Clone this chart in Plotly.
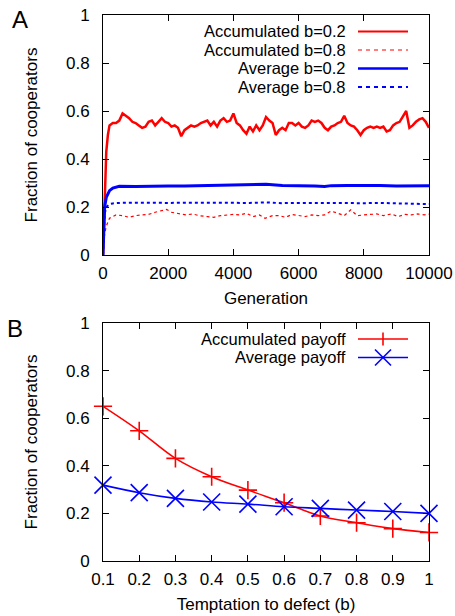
import plotly.graph_objects as go

# ---------------- Panel A data ----------------
gen_acc02 = [0, 50, 100, 150, 200] + list(range(300, 10001, 100))
acc_b02 = [0.0, 0.24, 0.43, 0.50, 0.54,
           0.55, 0.55, 0.56, 0.59, 0.58, 0.57, 0.555, 0.55, 0.54, 0.53,
           0.535, 0.555, 0.56, 0.54, 0.555, 0.57, 0.555, 0.55, 0.535, 0.54,
           0.53, 0.495, 0.52, 0.53, 0.54, 0.535, 0.54, 0.55, 0.555, 0.56,
           0.54, 0.555, 0.535, 0.56, 0.57, 0.555, 0.56, 0.59, 0.55, 0.54,
           0.52, 0.505, 0.535, 0.515, 0.54, 0.52, 0.54, 0.575, 0.56, 0.55,
           0.50, 0.52, 0.53, 0.52, 0.55, 0.55, 0.54, 0.55, 0.535, 0.53,
           0.54, 0.56, 0.555, 0.56, 0.55, 0.53, 0.52, 0.535, 0.54, 0.55,
           0.555, 0.58, 0.55, 0.54, 0.535, 0.52, 0.50, 0.52, 0.53, 0.535,
           0.53, 0.535, 0.53, 0.535, 0.515, 0.52, 0.54, 0.55, 0.555, 0.575,
           0.60, 0.53, 0.54, 0.555, 0.565, 0.57, 0.555, 0.53]

gen_acc08 = [0, 30, 100, 200, 400, 600, 800, 1000, 1200, 1400, 1600, 1800,
             1950, 2100, 2350, 2550, 2750, 2950, 3200, 3400, 3600, 3800, 4000,
             4200, 4400, 4600, 4800, 4970, 5200, 5400, 5600, 5800, 6000, 6200,
             6400, 6600, 6800, 7000, 7200, 7400, 7600, 7800, 8000, 8200, 8400,
             8600, 8850, 9050, 9250, 9450, 9650, 9850, 10000]
acc_b08 = [0.0, 0.07, 0.12, 0.153, 0.167, 0.164, 0.157, 0.164, 0.167, 0.169,
           0.178, 0.185, 0.19, 0.178, 0.171, 0.167, 0.171, 0.164, 0.16, 0.157,
           0.164, 0.167, 0.169, 0.167, 0.174, 0.16, 0.167, 0.153, 0.164, 0.164,
           0.157, 0.169, 0.164, 0.16, 0.167, 0.164, 0.167, 0.183, 0.174, 0.164,
           0.188, 0.164, 0.167, 0.169, 0.171, 0.164, 0.171, 0.16, 0.169, 0.167,
           0.171, 0.167, 0.17]

gen_avg02 = [0, 25, 50, 100, 150, 200, 300, 400, 500, 1000, 1500, 2000, 2500,
             3000, 3500, 4000, 4500, 5000, 5500, 6000, 6500, 6800, 7000, 7500,
             8000, 8500, 9000, 9500, 10000]
avg_b02 = [0.0, 0.15, 0.20, 0.24, 0.258, 0.268, 0.279, 0.284, 0.286, 0.285,
           0.288, 0.288, 0.287, 0.289, 0.290, 0.290, 0.292, 0.295, 0.290,
           0.290, 0.288, 0.285, 0.289, 0.290, 0.291, 0.290, 0.288, 0.290, 0.289]

gen_avg08 = [0, 25, 50, 100, 200, 300, 500, 1000, 1500, 2000, 2500, 3000,
             3500, 4000, 4500, 5000, 5500, 6000, 6500, 7000, 7500, 8000, 8500,
             9000, 9500, 10000]
avg_b08 = [0.0, 0.12, 0.17, 0.20, 0.212, 0.215, 0.217, 0.218, 0.216, 0.217,
           0.218, 0.217, 0.216, 0.218, 0.217, 0.219, 0.216, 0.217, 0.216,
           0.217, 0.216, 0.216, 0.217, 0.216, 0.216, 0.212]

# ---------------- Panel B data ----------------
temptation = [0.1, 0.2, 0.3, 0.4, 0.5, 0.6, 0.7, 0.8, 0.9, 1.0]
acc_payoff = [0.650, 0.547, 0.431, 0.354, 0.298, 0.245, 0.189, 0.161, 0.136, 0.120]
avg_payoff = [0.319, 0.287, 0.263, 0.248, 0.239, 0.228, 0.221, 0.214, 0.208, 0.200]

xticks_A = [0, 2000, 4000, 6000, 8000, 10000]
xticklabels_A = ["0", "2000", "4000", "6000", "8000", "10000"]
xticks_B = [0.1, 0.2, 0.3, 0.4, 0.5, 0.6, 0.7, 0.8, 0.9, 1.0]
xticklabels_B = ["0.1", "0.2", "0.3", "0.4", "0.5", "0.6", "0.7", "0.8", "0.9", "1"]
yticks = [0, 0.2, 0.4, 0.6, 0.8, 1.0]
yticklabels = ["0", "0.2", "0.4", "0.6", "0.8", "1"]

legend_A = ["Accumulated b=0.2", "Accumulated b=0.8", "Average b=0.2", "Average b=0.8"]
legend_B = ["Accumulated payoff", "Average payoff"]

RED = "#ff0000"
BLUE = "#0000ff"
FONT = "Liberation Sans, Arial, sans-serif"

# body margin is removed on load (post_script), so the figure fills the window
W, H = 455, 616


def fx(p):
    """reference-image pixel x -> paper fraction"""
    return p / W


def fy(p):
    """reference-image pixel y -> paper fraction"""
    return 1 - p / H


fig = go.Figure()

styles_A = [dict(color=RED, width=2.5),
            dict(color=RED, width=1.2, dash="3px,3px"),
            dict(color=BLUE, width=3),
            dict(color=BLUE, width=2, dash="3px,3px")]
key_styles_A = [dict(color=RED, width=2.2),
                dict(color=RED, width=1.2, dash="4px,4px"),
                dict(color=BLUE, width=2.6),
                dict(color=BLUE, width=1.8, dash="4px,4px")]
series_A = [(gen_acc02, acc_b02), (gen_acc08, acc_b08),
            (gen_avg02, avg_b02), (gen_avg08, avg_b08)]
for (gx, gy), name, st in zip(series_A, legend_A, styles_A):
    fig.add_trace(go.Scatter(x=gx, y=gy, mode="lines", name=name, line=st,
                             showlegend=False, xaxis="x", yaxis="y"))

fig.add_trace(go.Scatter(x=temptation, y=acc_payoff, mode="lines+markers", name=legend_B[0],
                         line=dict(color=RED, width=1.6, shape="spline"),
                         marker=dict(symbol="cross-thin", size=13, line=dict(color=RED, width=1.6)),
                         cliponaxis=False, showlegend=False, xaxis="x2", yaxis="y2"))
fig.add_trace(go.Scatter(x=temptation, y=avg_payoff, mode="lines+markers", name=legend_B[1],
                         line=dict(color=BLUE, width=1.6, shape="spline"),
                         marker=dict(symbol="x-thin", size=17, line=dict(color=BLUE, width=1.6)),
                         cliponaxis=False, showlegend=False, xaxis="x2", yaxis="y2"))

axis_common = dict(showline=True, linecolor="black", linewidth=1, mirror="ticks",
                   ticks="inside", ticklen=6, tickcolor="black", showgrid=False,
                   zeroline=False, automargin=False, ticklabeloverflow="allow",
                   tickfont=dict(family=FONT, size=17, color="black"))

# ---- gnuplot-style key: right-aligned text, sample to the right ----
KEY_FONT = dict(family=FONT, size=16.5, color="black")
annotations = []
shapes = []
rows_A = [31.5, 50, 68.5, 87]
for name, st, ry in zip(legend_A, key_styles_A, rows_A):
    annotations.append(dict(text=name, x=fx(348), y=fy(ry - 0.5), xref="paper", yref="paper",
                            xanchor="right", yanchor="middle", showarrow=False, font=KEY_FONT))
    shapes.append(dict(type="line", xref="paper", yref="paper",
                       x0=fx(358), x1=fx(408), y0=fy(ry), y1=fy(ry), line=st))

rows_B = [339, 357.5]
colors_B = [RED, BLUE]
for name, c, ry in zip(legend_B, colors_B, rows_B):
    annotations.append(dict(text=name, x=fx(348), y=fy(ry - 0.5), xref="paper", yref="paper",
                            xanchor="right", yanchor="middle", showarrow=False, font=KEY_FONT))
    shapes.append(dict(type="line", xref="paper", yref="paper",
                       x0=fx(358), x1=fx(408), y0=fy(ry), y1=fy(ry),
                       line=dict(color=c, width=1.6)))
# key markers: "+" and "x"
shapes.append(dict(type="line", xref="paper", yref="paper", x0=fx(383), x1=fx(383),
                   y0=fy(rows_B[0] - 6.5), y1=fy(rows_B[0] + 6.5), line=dict(color=RED, width=1.6)))
shapes.append(dict(type="line", xref="paper", yref="paper", x0=fx(383 - 8), x1=fx(383 + 8),
                   y0=fy(rows_B[1] - 8), y1=fy(rows_B[1] + 8), line=dict(color=BLUE, width=1.6)))
shapes.append(dict(type="line", xref="paper", yref="paper", x0=fx(383 - 8), x1=fx(383 + 8),
                   y0=fy(rows_B[1] + 8), y1=fy(rows_B[1] - 8), line=dict(color=BLUE, width=1.6)))

annotations += [
    dict(text="A", x=fx(9.5), y=fy(19), xref="paper", yref="paper",
         xanchor="left", yanchor="middle", showarrow=False, font=dict(size=24, family=FONT)),
    dict(text="B", x=fx(5), y=fy(328), xref="paper", yref="paper",
         xanchor="left", yanchor="middle", showarrow=False, font=dict(size=24, family=FONT)),
]

fig.update_layout(
    width=W, height=H,
    margin=dict(l=0, r=0, t=0, b=0),
    paper_bgcolor="white", plot_bgcolor="white",
    font=dict(family=FONT, size=17, color="black"),
    showlegend=False,
    xaxis=dict(domain=[fx(103), fx(429)], anchor="y", range=[0, 10000],
               tickvals=xticks_A, ticktext=xticklabels_A, ticklabelstandoff=3,
               title=dict(text="Generation", font=dict(size=17), standoff=9),
               **axis_common),
    yaxis=dict(domain=[fy(255), fy(15)], anchor="x", range=[0, 1],
               tickvals=yticks, ticktext=yticklabels, ticklabelstandoff=9,
               title=dict(text="Fraction of cooperators", font=dict(size=17), standoff=24),
               **axis_common),
    xaxis2=dict(domain=[fx(103), fx(429)], anchor="y2", range=[0.1, 1.0],
                tickvals=xticks_B, ticktext=xticklabels_B, ticklabelstandoff=3,
                title=dict(text="Temptation to defect (b)", font=dict(size=17), standoff=9),
                **axis_common),
    yaxis2=dict(domain=[fy(561), fy(323)], anchor="x2", range=[0, 1],
                tickvals=yticks, ticktext=yticklabels, ticklabelstandoff=9,
                title=dict(text="Fraction of cooperators", font=dict(size=17), standoff=24),
                **axis_common),
    annotations=annotations,
    shapes=shapes,
)

fig.write_html("out.html",
               config={"displayModeBar": False},
               post_script="document.body.style.margin='0';document.body.style.overflow='hidden';")
